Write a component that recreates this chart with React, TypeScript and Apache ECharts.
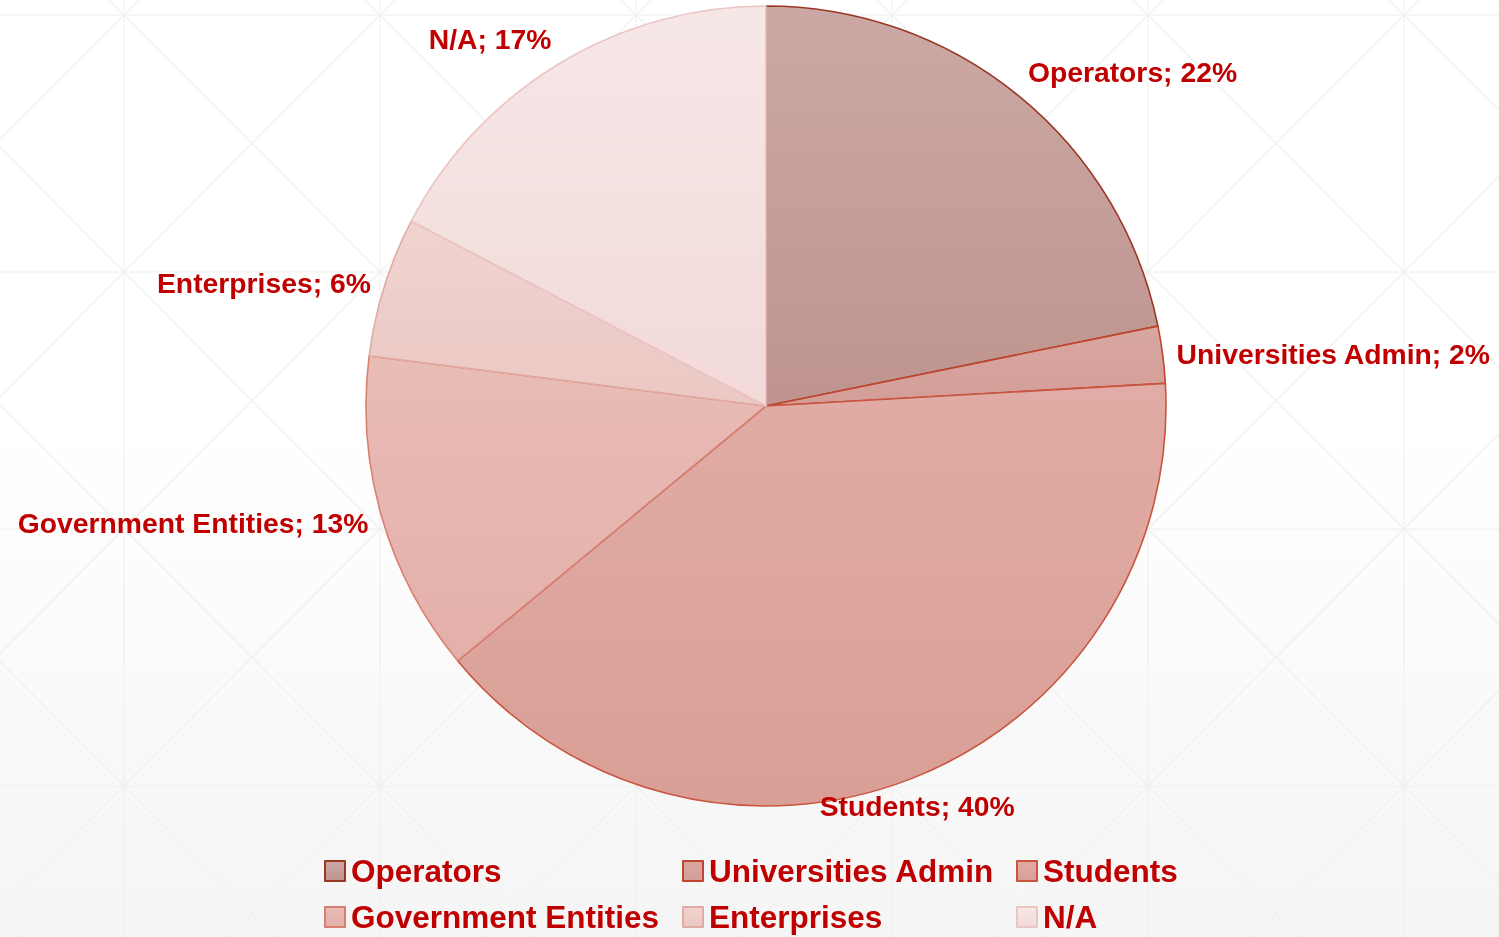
import React, { useEffect, useRef } from "react";
import * as echarts from "echarts";

// ---- data ----
const categories = [
  "Operators",
  "Universities Admin",
  "Students",
  "Government Entities",
  "Enterprises",
  "N/A",
];
const shares = [21.8, 2.3, 39.9, 13.0, 5.65, 17.35];

// ---- styles ----
const fillTop = ["#cca8a4", "#d8a6a0", "#e1aca5", "#e9bcb6", "#f0d3cf", "#f6e7e7"];
const fillBottom = ["#bf948f", "#d49e98", "#d99f96", "#e3b0a9", "#ebc8c4", "#f2dad9"];
const borderColors = ["#9a3826", "#c0452e", "#c9553f", "#d8806f", "#e2aaa2", "#ebc5c2"];

const W = 1499;
const H = 937;
const CX = 766;
const CY = 406;
const R = 400;
const LABEL_R = 414;
const TEXT_RED = "#c00000";
const FONT = "'Liberation Sans', Arial, sans-serif";

const GRID_X0 = 124;
const GRID_DX = 256;
const GRID_Y0 = 15;
const GRID_DY = 257;
const GRID_COLOR = "#efefef";

function buildBackground() {
  const els: any[] = [];
  els.push({
    type: "rect",
    silent: true,
    shape: { x: 0, y: 0, width: W, height: H },
    style: {
      fill: new echarts.graphic.LinearGradient(0, 0, 0, 1, [
        { offset: 0, color: "#ffffff" },
        { offset: 0.45, color: "#ffffff" },
        { offset: 1, color: "#f5f5f5" },
      ]),
    },
  });
  const lineStyle = { stroke: GRID_COLOR, lineWidth: 1.1 };
  for (let i = -1; i <= 6; i++) {
    for (let j = -1; j <= 4; j++) {
      const x0 = GRID_X0 + i * GRID_DX;
      const y0 = GRID_Y0 + j * GRID_DY;
      els.push({
        type: "line",
        silent: true,
        shape: { x1: x0, y1: y0, x2: x0 + GRID_DX, y2: y0 + GRID_DY },
        style: lineStyle,
      });
      els.push({
        type: "line",
        silent: true,
        shape: { x1: x0 + GRID_DX, y1: y0, x2: x0, y2: y0 + GRID_DY },
        style: lineStyle,
      });
    }
  }
  for (let i = 0; i <= 6; i++) {
    const x = GRID_X0 + i * GRID_DX;
    if (x < 0 || x > W) continue;
    els.push({
      type: "line",
      silent: true,
      shape: { x1: x, y1: 0, x2: x, y2: H },
      style: lineStyle,
    });
  }
  for (let j = 0; j <= 4; j++) {
    const y = GRID_Y0 + j * GRID_DY;
    if (y < 0 || y > H) continue;
    els.push({
      type: "line",
      silent: true,
      shape: { x1: 0, y1: y, x2: W, y2: y },
      style: lineStyle,
    });
  }
  return els;
}

export default function App() {
  const ref = useRef<HTMLDivElement>(null);

  useEffect(() => {
    if (!ref.current) return;
    const chart = echarts.init(ref.current, null, { renderer: "svg" });
    const total = shares.reduce((a, b) => a + b, 0);

    const data = categories.map((name, i) => ({
      name,
      value: shares[i],
      itemStyle: {
        color: new echarts.graphic.LinearGradient(0, 0, 0, 1, [
          { offset: 0, color: fillTop[i] },
          { offset: 1, color: fillBottom[i] },
        ]),
        borderColor: borderColors[i],
        borderWidth: 1.6,
      },
    }));

    const legendCommon = {
      orient: "vertical",
      top: 855,
      padding: 0,
      itemGap: 14,
      itemWidth: 20,
      itemHeight: 20,
      icon: "rect",
      selectedMode: false,
      textStyle: {
        color: TEXT_RED,
        fontSize: 31.5,
        fontWeight: "bold",
        fontFamily: FONT,
        lineHeight: 31,
        padding: [0, 0, 0, 1],
      },
    };

    chart.setOption({
      animation: false,
      graphic: { elements: buildBackground() },
      legend: [
        { ...legendCommon, left: 324, data: ["Operators", "Government Entities"] },
        { ...legendCommon, left: 682, data: ["Universities Admin", "Enterprises"] },
        { ...legendCommon, left: 1016, data: ["Students", "N/A"] },
      ],
      series: [
        {
          type: "pie",
          center: [CX, CY],
          radius: R,
          startAngle: 90,
          clockwise: true,
          avoidLabelOverlap: false,
          emphasis: { disabled: true },
          labelLine: { show: false },
          label: {
            show: true,
            position: "outside",
            color: TEXT_RED,
            fontSize: 28.3,
            fontWeight: "bold",
            fontFamily: FONT,
            lineHeight: 28,
            formatter: (p: any) => `${p.name}; ${Math.round(p.percent)}%`,
          },
          labelLayout: (params: any) => {
            const i = params.dataIndex;
            let before = 0;
            for (let k = 0; k < i; k++) before += shares[k];
            const mid = ((before + shares[i] / 2) / total) * Math.PI * 2;
            const s = Math.sin(mid);
            const c = Math.cos(mid);
            return {
              x: CX + LABEL_R * s,
              y: CY - LABEL_R * c + 1,
              align: s > 0.45 ? "left" : s < -0.45 ? "right" : "center",
              verticalAlign: c > 0.5 ? "bottom" : c < -0.5 ? "top" : "middle",
            };
          },
          data,
        },
      ],
    });

    return () => chart.dispose();
  }, []);

  return (
    <div
      ref={ref}
      style={{ position: "fixed", left: 0, top: 0, width: W, height: H }}
    />
  );
}
